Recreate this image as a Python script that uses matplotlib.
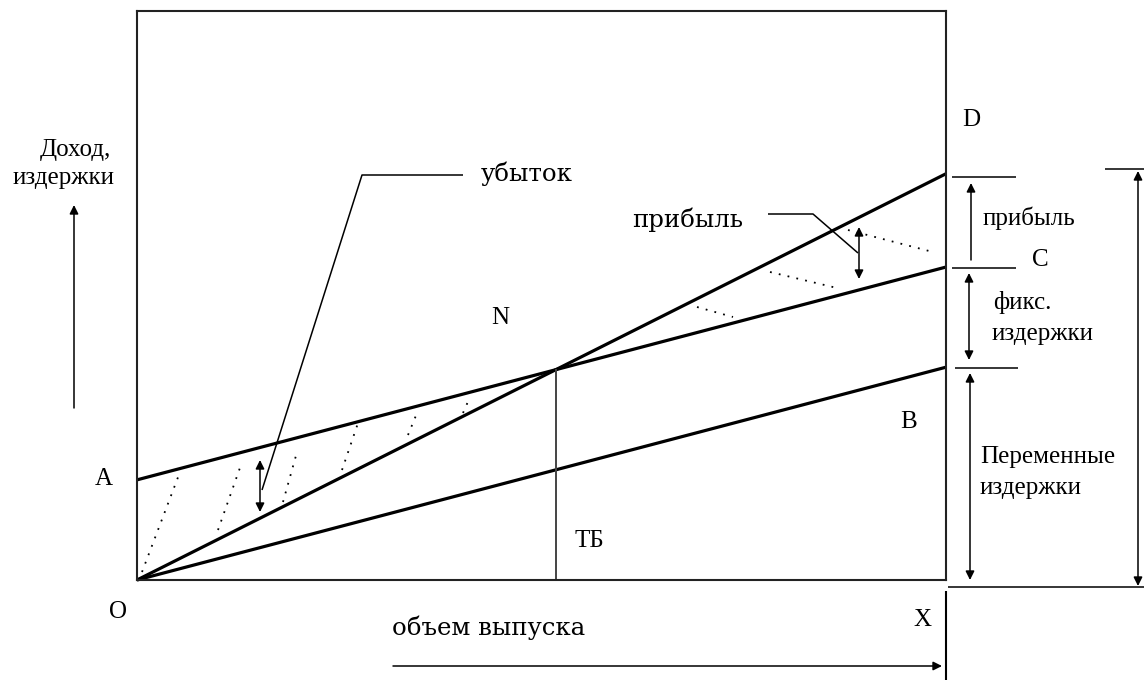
import numpy as np
import matplotlib
matplotlib.use("Agg")
import matplotlib.pyplot as plt

plt.rcParams['font.family'] = ['Liberation Serif', 'DejaVu Serif']

# ---- data (break-even model) ----
volume = np.array([0.0, 100.0])          # output volume range
fixed_costs = 17.6                        # F
variable_cost_per_unit = 0.374            # v
price_per_unit = 0.714                    # p

revenue = price_per_unit * volume
variable_costs = variable_cost_per_unit * volume
total_costs = fixed_costs + variable_costs
break_even_volume = fixed_costs / (price_per_unit - variable_cost_per_unit)
break_even_value = price_per_unit * break_even_volume

FS = 18
W, H = 1144, 680
fig = plt.figure(figsize=(W / 100, H / 100), dpi=100)

# overlay in pixel coordinates for annotations
ov = fig.add_axes([0, 0, 1, 1])
ov.set_xlim(0, W)
ov.set_ylim(H, 0)
ov.axis('off')

# plot box
bx0, bx1, by0, by1 = 137, 946, 11, 580
ax = fig.add_axes([bx0 / W, (H - by1) / H, (bx1 - bx0) / W, (by1 - by0) / H])
ax.set_xlim(0, 100)
ax.set_ylim(0, 100)
ax.set_xticks([])
ax.set_yticks([])
for s in ax.spines.values():
    s.set_linewidth(1.5)
    s.set_color('#222222')
ax.set_zorder(2)
ax.patch.set_alpha(0)

lw_main = 2.3
ax.plot(volume, revenue, color='black', lw=lw_main, clip_on=False, solid_capstyle='butt')
ax.plot(volume, total_costs, color='black', lw=lw_main, clip_on=False, solid_capstyle='butt')
ax.plot(volume, variable_costs, color='black', lw=lw_main, clip_on=False, solid_capstyle='butt')
ax.plot([break_even_volume, break_even_volume], [0, break_even_value],
        color='#444444', lw=1.4)

# ---- hatching (dotted) ----
dot = dict(color='black', lw=1.3, linestyle=(0, (1, 4)))
hatch = [((142, 572), (180, 472)), ((218, 530), (242, 462)), ((283, 502), (297, 452)),
         ((342, 470), (358, 423)), ((408, 435), (417, 413)), ((463, 413), (470, 397)),
         ((697, 307), (733, 317)), ((770, 272), (837, 288)), ((848, 230), (933, 252))]
for (a, b) in hatch:
    ov.plot([a[0], b[0]], [a[1], b[1]], **dot)

thin = 1.1
def arrow(x0, y0, x1, y1, style='<|-|>'):
    ov.annotate('', xy=(x1, y1), xytext=(x0, y0),
                arrowprops=dict(arrowstyle=style, mutation_scale=13, lw=thin,
                                color='black', shrinkA=0, shrinkB=0))

def seg(xs, ys, lw=thin, color='black'):
    ov.plot(xs, ys, color=color, lw=lw, solid_capstyle='butt')

# loss annotation
seg([463, 362, 262], [175, 175, 490])
arrow(260, 512, 260, 460)
# profit annotation
seg([768, 813, 858], [214, 214, 253])
arrow(859, 279, 859, 227)

# right-side scale
seg([952, 1016], [177, 177])
seg([952, 1016], [268, 268])
seg([955, 1018], [368, 368])
seg([1105, 1144], [169, 169])
seg([948, 1144], [587, 587])
seg([946, 946], [591, 680], lw=1.5)
arrow(971, 260, 971, 183, style='-|>')
arrow(969, 273, 969, 360)
arrow(970, 373, 970, 580)
arrow(1138, 171, 1138, 586)

# axis arrows
arrow(393, 666, 942, 666, style='-|>')
arrow(74, 408, 74, 205, style='-|>')

# ---- texts ----
def txt(x, y, s, ha='left', fs=FS, family=None):
    kw = {}
    if family is not None:
        kw['family'] = family
    ov.text(x, y, s, fontsize=fs, ha=ha, va='center', color='black', **kw)

wide = ['DejaVu Serif', 'Liberation Serif']
txt(75, 150, 'Доход,', ha='center')
txt(64, 178, 'издержки', ha='center')
txt(481, 174, 'убыток', fs=17.6, family=wide)
txt(632, 220, 'прибыль', fs=17.6, family=wide)
txt(500, 318, 'N', ha='center')
txt(104, 479, 'A', ha='center')
txt(118, 612, 'O', ha='center')
txt(589, 541, 'ТБ', ha='center')
txt(909, 422, 'B', ha='center')
txt(962, 120, 'D')
txt(1032, 260, 'C')
txt(922, 620, 'X', ha='center')
txt(983, 218, 'прибыль')
txt(993, 302, 'фикс.')
txt(992, 334, 'издержки')
txt(980, 457, 'Переменные')
txt(980, 488, 'издержки')
txt(392, 628, 'объем выпуска', fs=17.6, family=wide)

fig.savefig('out.png', dpi=100, facecolor='white')
